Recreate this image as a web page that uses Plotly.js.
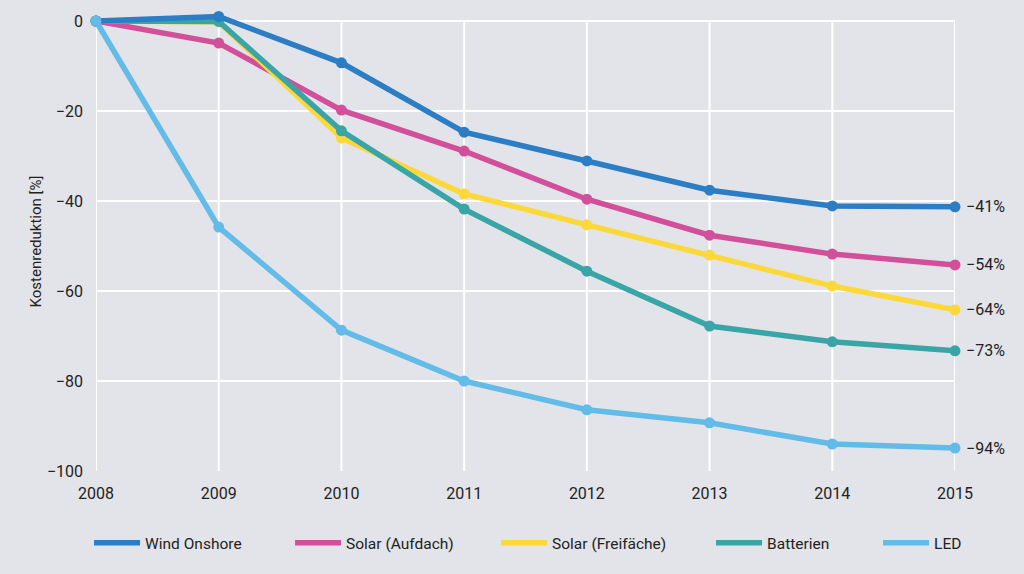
<!DOCTYPE html>
<html>
<head>
<meta charset="utf-8">
<script src="https://cdn.plot.ly/plotly-3.0.1.min.js"></script>
<style>html,body{margin:0;padding:0;background:#e3e4e9;}#chart{width:1024px;height:574px;}</style>
</head>
<body>
<div id="chart"></div>
<script>
const years = [2008, 2009, 2010, 2011, 2012, 2013, 2014, 2015];
const seriesNames = ["Wind Onshore", "Solar (Aufdach)", "Solar (Freifäche)", "Batterien", "LED"];
const windOnshore = [0, 1, -9.3, -24.7, -31.1, -37.6, -41.1, -41.3];
const solarAufdach = [0, -4.9, -19.8, -28.9, -39.6, -47.6, -51.8, -54.2];
const solarFreiflaeche = [0, -0.2, -26, -38.4, -45.3, -52, -58.9, -64.2];
const batterien = [0, -0.1, -24.4, -41.8, -55.6, -67.8, -71.3, -73.3];
const led = [0, -45.8, -68.7, -80, -86.4, -89.3, -94, -94.9];
const endLabels = ["−41%", "−54%", "−64%", "−73%", "−94%"];
const yTicks = [0, -20, -40, -60, -80, -100];

const colors = ["#2b7dc4", "#d2509a", "#fdd83b", "#3aa5a6", "#63bbe7"];
const allValues = [windOnshore, solarAufdach, solarFreiflaeche, batterien, led];
// drawing order (bottom to top) as seen in the reference
const drawOrder = [1, 2, 3, 0, 4];
// legend positions (paper x) for the five legend entries
const legendX = [-0.0081, 0.2259, 0.4657, 0.7160, 0.9104];

const traces = [];
drawOrder.forEach(i => {
  traces.push({
    x: years, y: allValues[i], name: seriesNames[i], type: "scatter", mode: "lines+markers",
    line: {color: colors[i], width: 5.5},
    marker: {color: colors[i], size: 11},
    cliponaxis: false, showlegend: false
  });
});
seriesNames.forEach((name, i) => {
  traces.push({
    x: [null], y: [null], name: name, type: "scatter", mode: "lines",
    line: {color: colors[i], width: 5.5},
    showlegend: true, legend: i === 0 ? "legend" : "legend" + (i + 1)
  });
});

const annotations = allValues.map((vals, i) => ({
  x: years[years.length - 1], y: vals[vals.length - 1], xref: "x", yref: "y",
  text: endLabels[i], showarrow: false, xanchor: "left", xshift: 9,
  font: {size: 16, color: "#222"}
}));

// vertical grid lines from 0 down to -100 at every year
const shapes = years.map(yr => ({
  type: "line", xref: "x", yref: "y", x0: yr, x1: yr, y0: yTicks[yTicks.length - 1], y1: yTicks[0],
  line: {color: "#ffffff", width: 2}, layer: "below"
}));

const layout = {
  width: 1024, height: 574,
  paper_bgcolor: "#e3e4e9", plot_bgcolor: "#e3e4e9",
  margin: {l: 96, r: 69, t: 12, b: 103},
  font: {family: "Roboto, sans-serif", color: "#222", size: 15},
  xaxis: {
    range: [2008, 2015], tickvals: years, ticktext: years.map(String),
    showgrid: false,
    showline: false,
    zeroline: false, ticks: "", tickfont: {size: 16}, ticklabelstandoff: 11
  },
  yaxis: {
    range: [-100, 2], tickvals: yTicks,
    showgrid: true, gridcolor: "#ffffff", gridwidth: 2,
    showline: false,
    zeroline: false, ticks: "", tickfont: {size: 16}, ticklabelstandoff: 12,
    title: {text: "Kostenreduktion [%]", font: {size: 15}, standoff: 1}
  },
  showlegend: true,
  shapes: shapes,
  annotations: annotations
};
legendX.forEach((lx, i) => {
  const key = i === 0 ? "legend" : "legend" + (i + 1);
  layout[key] = {
    orientation: "h", x: lx, xanchor: "left", y: -0.157, yanchor: "middle",
    itemwidth: 46,
    font: {size: 15.5, color: "#222"}, bgcolor: "rgba(0,0,0,0)"
  };
});

Plotly.newPlot("chart", traces, layout, {displayModeBar: false, staticPlot: true});
</script>
</body>
</html>
